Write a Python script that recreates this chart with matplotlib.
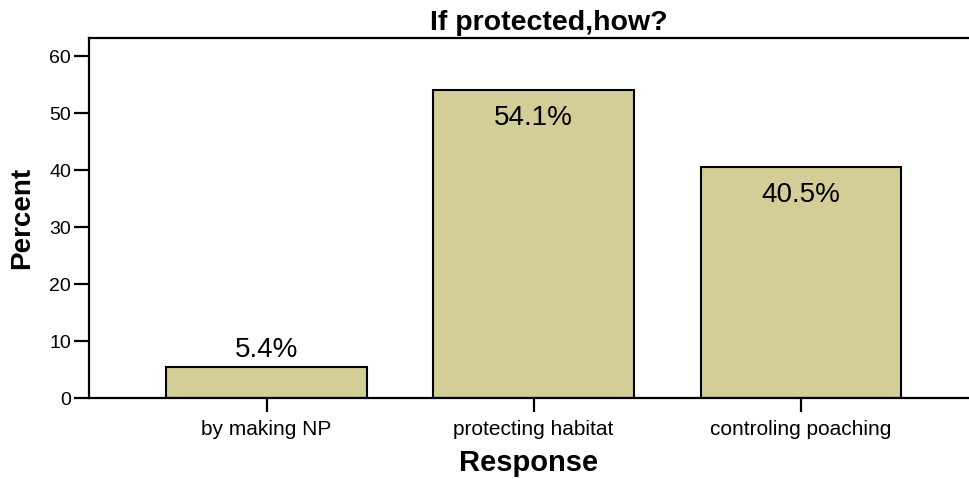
import matplotlib.pyplot as plt

plt.rcParams['font.family'] = ['Liberation Sans', 'DejaVu Sans']

categories = ["by making NP", "protecting habitat", "controling poaching"]
percent = [5.4, 54.1, 40.5]
value_labels = ["5.4%", "54.1%", "40.5%"]

fig = plt.figure(figsize=(9.69, 4.79), dpi=100)
ax = fig.add_axes([0.0918, 0.169, 0.9082, 0.752])

x = range(len(categories))
bars = ax.bar(x, percent, width=0.75, color='#d3ce98', edgecolor='black', linewidth=1.5)

# small bars get the label above, tall bars inside near the top
for b, v, lab in zip(bars, percent, value_labels):
    cx = b.get_x() + b.get_width() / 2
    if v < 10:
        ax.annotate(lab, (cx, v), xytext=(0, 3), textcoords='offset points',
                    ha='center', va='bottom', fontsize=20)
    else:
        ax.annotate(lab, (cx, v), xytext=(0, -11), textcoords='offset points',
                    ha='center', va='top', fontsize=20)

ax.set_xlim(-0.665, 2.63)
ax.set_ylim(0, 63.2)
ax.set_yticks(range(0, 61, 10))
ax.set_xticks(list(x))
ax.set_xticklabels(categories)

ax.spines['right'].set_visible(False)
for s in ['left', 'bottom', 'top']:
    ax.spines[s].set_linewidth(1.6)
ax.tick_params(axis='y', length=11, width=1.6, labelsize=14, pad=2)
ax.tick_params(axis='x', length=10, width=1.6, labelsize=15, pad=6)

ax.set_xlabel("Response", fontsize=21, fontweight='bold', labelpad=7)
ax.set_ylabel("Percent", fontsize=20, fontweight='bold', labelpad=10)
ax.set_title("If protected,how?", fontsize=20.5, fontweight='bold', pad=6, x=0.522)

fig.savefig("out.png", dpi=100)
